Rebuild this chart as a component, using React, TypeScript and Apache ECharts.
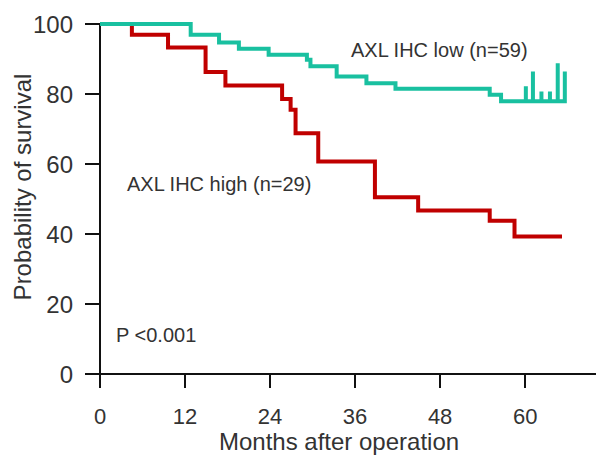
import React, { useEffect, useRef } from "react";
import * as echarts from "echarts";

// AXL IHC low (n=59): event times (months) and survival (%) after each step
const lowTimes = [12.8, 16.8, 19.6, 23.8, 29.2, 29.7, 33.4, 37.6, 41.7, 55.0, 56.6];
const lowSurv = [96.9, 94.7, 92.9, 91.2, 89.8, 87.9, 85.0, 83.1, 81.5, 79.8, 77.9];
// censor marks at the tail of the low group: time, top of mark
const lowCensorTimes = [60.1, 61.1, 62.3, 63.5, 64.6, 65.6];
const lowCensorTops = [82.2, 86.4, 80.7, 80.7, 88.8, 86.4];
const lowEnd = 65.6;

// AXL IHC high (n=29)
const highTimes = [4.5, 9.6, 14.9, 17.7, 25.7, 26.9, 27.6, 30.8, 38.8, 44.9, 55.0, 58.5];
const highSurv = [96.9, 93.3, 86.3, 82.4, 78.6, 75.5, 68.8, 60.7, 50.5, 46.7, 43.8, 39.3];
const highEnd = 65.2;

const xTicks = [0, 12, 24, 36, 48, 60];

const labelLow = "AXL IHC low (n=59)";
const labelHigh = "AXL IHC high (n=29)";
const pText = "P <0.001";
const xTitle = "Months after operation";
const yTitle = "Probability of survival";

function kmPoints(
  times: number[],
  surv: number[],
  end: number,
  cTimes: number[] = [],
  cTops: number[] = []
): number[][] {
  const pts: number[][] = [[0, 100]];
  let prev = 100;
  for (let i = 0; i < times.length; i++) {
    pts.push([times[i], prev]);
    pts.push([times[i], surv[i]]);
    prev = surv[i];
  }
  for (let i = 0; i < cTimes.length; i++) {
    pts.push([cTimes[i], prev]);
    pts.push([cTimes[i], cTops[i]]);
    if (i < cTimes.length - 1) pts.push([cTimes[i], prev]);
  }
  if (!cTimes.length || cTimes[cTimes.length - 1] < end) pts.push([end, prev]);
  return pts;
}

const FONT = "'Liberation Sans', Arial, sans-serif";
const TEXT = "#333333";

export default function App() {
  const ref = useRef<HTMLDivElement>(null);
  useEffect(() => {
    if (!ref.current) return;
    const chart = echarts.init(ref.current, undefined, { renderer: "svg" });
    chart.setOption({
      animation: false,
      backgroundColor: "#ffffff",
      grid: { left: 100, top: 24, width: 497, height: 350 },
      xAxis: {
        type: "value",
        min: 0,
        max: 70,
        axisLine: { show: true, lineStyle: { color: "#111", width: 2 } },
        axisTick: {
          show: true,
          length: 14,
          lineStyle: { color: "#111", width: 2 },
          customValues: xTicks,
        },
        axisLabel: {
          customValues: xTicks,
          fontSize: 22,
          color: TEXT,
          fontFamily: FONT,
          margin: 31,
        },
        splitLine: { show: false },
      },
      yAxis: {
        type: "value",
        min: 0,
        max: 100,
        interval: 20,
        axisLine: { show: true, lineStyle: { color: "#111", width: 2 } },
        axisTick: { show: true, length: 15, lineStyle: { color: "#111", width: 2 } },
        axisLabel: { fontSize: 24, color: TEXT, fontFamily: FONT, margin: 27 },
        splitLine: { show: false },
      },
      series: [
        {
          name: labelHigh,
          type: "line",
          data: kmPoints(highTimes, highSurv, highEnd),
          showSymbol: false,
          clip: false,
          lineStyle: { color: "#C00000", width: 4, join: "miter", cap: "butt" },
          z: 2,
        },
        {
          name: labelLow,
          type: "line",
          data: kmPoints(lowTimes, lowSurv, lowEnd, lowCensorTimes, lowCensorTops),
          showSymbol: false,
          clip: false,
          lineStyle: { color: "#19C0A0", width: 4, join: "miter", cap: "butt" },
          z: 3,
        },
      ],
      graphic: [
        {
          type: "text",
          left: 351,
          top: 40,
          style: { text: labelLow, fontSize: 20, fontFamily: FONT, fill: TEXT },
        },
        {
          type: "text",
          left: 127,
          top: 174,
          style: { text: labelHigh, fontSize: 20, fontFamily: FONT, fill: TEXT },
        },
        {
          type: "text",
          left: 116,
          top: 325,
          style: { text: pText, fontSize: 20, fontFamily: FONT, fill: TEXT },
        },
        {
          type: "text",
          x: 339,
          y: 441,
          style: {
            text: xTitle,
            fontSize: 24,
            fontFamily: FONT,
            fill: TEXT,
            textAlign: "center",
            textVerticalAlign: "middle",
          },
        },
        {
          type: "text",
          x: 22,
          y: 187,
          rotation: Math.PI / 2,
          style: {
            text: yTitle,
            fontSize: 24,
            fontFamily: FONT,
            fill: TEXT,
            textAlign: "center",
            textVerticalAlign: "middle",
          },
        },
      ],
    });
    return () => chart.dispose();
  }, []);
  return <div ref={ref} style={{ width: 596, height: 455, position: "absolute", left: 0, top: 0 }} />;
}
